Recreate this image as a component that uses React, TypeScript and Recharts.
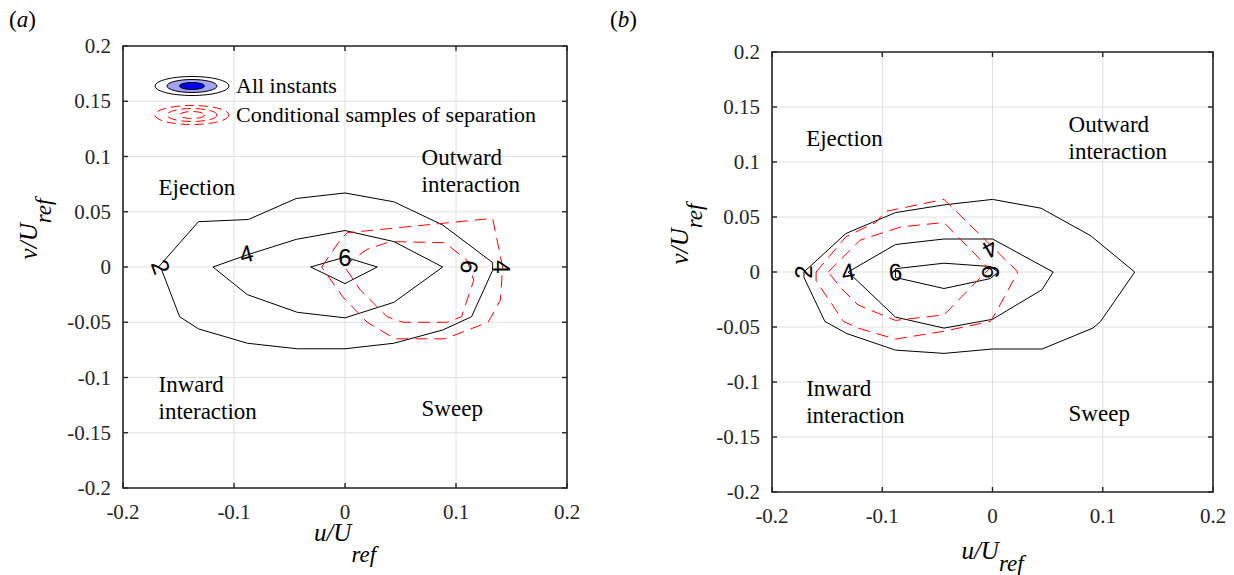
import React from "react";
import { CartesianGrid, ReferenceArea, Scatter, ScatterChart, XAxis, YAxis } from "recharts";

type Pt = { u: number; v: number };
type Note = { u: number; v: number; lines: string[] };
type Tag = { u: number; v: number; text: string; angle: number };

// axis ticks
const ticksU = [-0.2, -0.1, 0, 0.1, 0.2];
const ticksV = [-0.2, -0.15, -0.1, -0.05, 0, 0.05, 0.1, 0.15, 0.2];
const LO = -0.2;
const HI = 0.2;

// (a) joint pdf contours, all instants
const allA2: Pt[] = [
  { u: -0.168, v: 0 }, { u: -0.132, v: 0.041 }, { u: -0.087, v: 0.043 },
  { u: -0.044, v: 0.062 }, { u: 0, v: 0.067 }, { u: 0.044, v: 0.059 },
  { u: 0.088, v: 0.038 }, { u: 0.133, v: 0.004 }, { u: 0.133, v: -0.003 },
  { u: 0.114, v: -0.045 }, { u: 0.088, v: -0.057 }, { u: 0.044, v: -0.069 },
  { u: 0, v: -0.074 }, { u: -0.043, v: -0.074 }, { u: -0.088, v: -0.069 },
  { u: -0.132, v: -0.056 }, { u: -0.149, v: -0.045 }, { u: -0.165, v: -0.003 },
  { u: -0.168, v: 0 },
];
const allA4: Pt[] = [
  { u: -0.119, v: 0 }, { u: -0.088, v: 0.011 }, { u: -0.044, v: 0.025 },
  { u: 0, v: 0.033 }, { u: 0.044, v: 0.023 }, { u: 0.088, v: 0 },
  { u: 0.044, v: -0.032 }, { u: 0, v: -0.046 }, { u: -0.043, v: -0.041 },
  { u: -0.088, v: -0.025 }, { u: -0.119, v: 0 },
];
const allA6: Pt[] = [
  { u: -0.031, v: 0 }, { u: 0, v: 0.009 }, { u: 0.029, v: 0 },
  { u: 0, v: -0.015 }, { u: -0.031, v: 0 },
];
// (a) conditional samples of separation
const sepA4: Pt[] = [
  { u: -0.021, v: 0 }, { u: -0.004, v: 0.025 }, { u: 0.002, v: 0.031 },
  { u: 0.133, v: 0.044 }, { u: 0.142, v: 0 }, { u: 0.14, v: -0.03 },
  { u: 0.129, v: -0.05 }, { u: 0.09, v: -0.065 }, { u: 0.045, v: -0.065 },
  { u: 0.02, v: -0.05 }, { u: -0.002, v: -0.027 }, { u: -0.021, v: 0 },
];
const sepA6: Pt[] = [
  { u: -0.001, v: 0.001 }, { u: 0.02, v: 0.016 }, { u: 0.041, v: 0.023 },
  { u: 0.09, v: 0.022 }, { u: 0.11, v: 0.006 }, { u: 0.116, v: -0.012 },
  { u: 0.105, v: -0.045 }, { u: 0.092, v: -0.05 }, { u: 0.052, v: -0.05 },
  { u: 0.038, v: -0.045 }, { u: 0.014, v: -0.021 }, { u: -0.001, v: 0.001 },
];

// (b) joint pdf contours, all instants
const allB2: Pt[] = [
  { u: -0.171, v: 0 }, { u: -0.133, v: 0.035 }, { u: -0.088, v: 0.054 },
  { u: -0.044, v: 0.061 }, { u: 0, v: 0.066 }, { u: 0.044, v: 0.058 },
  { u: 0.089, v: 0.033 }, { u: 0.129, v: 0 }, { u: 0.098, v: -0.045 },
  { u: 0.091, v: -0.051 }, { u: 0.045, v: -0.07 }, { u: 0, v: -0.07 },
  { u: -0.044, v: -0.074 }, { u: -0.088, v: -0.071 }, { u: -0.132, v: -0.056 },
  { u: -0.152, v: -0.045 }, { u: -0.171, v: -0.005 }, { u: -0.171, v: 0 },
];
const allB4: Pt[] = [
  { u: -0.131, v: 0 }, { u: -0.088, v: 0.025 }, { u: -0.044, v: 0.03 },
  { u: 0, v: 0.03 }, { u: 0.055, v: 0 }, { u: 0.045, v: -0.016 },
  { u: 0, v: -0.043 }, { u: -0.044, v: -0.051 }, { u: -0.088, v: -0.041 },
  { u: -0.131, v: 0 },
];
const allB6: Pt[] = [
  { u: -0.088, v: 0.003 }, { u: -0.044, v: 0.008 }, { u: -0.002, v: 0.005 },
  { u: 0.005, v: 0 }, { u: -0.002, v: -0.006 }, { u: -0.044, v: -0.015 },
  { u: -0.088, v: -0.005 }, { u: -0.088, v: 0.003 },
];
// (b) conditional samples of separation
const sepB4: Pt[] = [
  { u: -0.16, v: 0 }, { u: -0.133, v: 0.032 }, { u: -0.106, v: 0.045 },
  { u: -0.097, v: 0.055 }, { u: -0.044, v: 0.066 }, { u: 0.023, v: 0 },
  { u: 0.003, v: -0.037 }, { u: -0.002, v: -0.045 }, { u: -0.045, v: -0.054 },
  { u: -0.088, v: -0.061 }, { u: -0.122, v: -0.051 }, { u: -0.135, v: -0.045 },
  { u: -0.16, v: -0.008 }, { u: -0.16, v: 0 },
];
const sepB6: Pt[] = [
  { u: -0.149, v: 0 }, { u: -0.12, v: 0.029 }, { u: -0.083, v: 0.041 },
  { u: -0.044, v: 0.045 }, { u: -0.003, v: 0.003 }, { u: -0.044, v: -0.039 },
  { u: -0.088, v: -0.044 }, { u: -0.122, v: -0.03 }, { u: -0.138, v: -0.014 },
  { u: -0.149, v: 0 },
];

// contour level labels
const tagsA: Tag[] = [
  { u: -0.166, v: 0, text: "2", angle: 70 },
  { u: -0.089, v: 0.012, text: "4", angle: -15 },
  { u: 0, v: 0.009, text: "6", angle: 0 },
  { u: 0.112, v: 0, text: "6", angle: 95 },
  { u: 0.141, v: 0, text: "4", angle: 90 },
];
const tagsB: Tag[] = [
  { u: -0.171, v: 0, text: "2", angle: -90 },
  { u: -0.131, v: 0, text: "4", angle: -10 },
  { u: -0.088, v: 0, text: "6", angle: -5 },
  { u: -0.002, v: 0.021, text: "4", angle: 150 },
  { u: -0.002, v: 0, text: "6", angle: 90 },
];

// quadrant names
const quadA: Note[] = [
  { u: -0.168, v: 0.065, lines: ["Ejection"] },
  { u: 0.069, v: 0.092, lines: ["Outward", "interaction"] },
  { u: -0.168, v: -0.113, lines: ["Inward", "interaction"] },
  { u: 0.069, v: -0.135, lines: ["Sweep"] },
];
const quadB: Note[] = [
  { u: -0.169, v: 0.115, lines: ["Ejection"] },
  { u: 0.069, v: 0.127, lines: ["Outward", "interaction"] },
  { u: -0.169, v: -0.113, lines: ["Inward", "interaction"] },
  { u: 0.069, v: -0.135, lines: ["Sweep"] },
];

// tick positions on the four sides of the box
const bottomTicks = ticksU.map((u) => ({ u, v: LO }));
const topTicks = ticksU.map((u) => ({ u, v: HI }));
const leftTicks = ticksV.map((v) => ({ u: LO, v }));
const rightTicks = ticksV.map((v) => ({ u: HI, v }));

const serif = "'Liberation Serif', 'Times New Roman', serif";
const sans = "'Liberation Sans', Arial, sans-serif";
const frame = "#262626";
const gridColor = "#e0e0e0";
const TL = 5;

const noPoint = () => <g />;

const bottomTick = (p: any) => (
  <g>
    <line x1={p.cx} y1={p.cy} x2={p.cx} y2={p.cy - TL} stroke={frame} strokeWidth={1.4} />
    <text x={p.cx} y={p.cy + 31} textAnchor="middle" fontFamily={serif} fontSize={21} fill={frame}>
      {String(p.payload.u)}
    </text>
  </g>
);
const topTick = (p: any) => (
  <line x1={p.cx} y1={p.cy} x2={p.cx} y2={p.cy + TL} stroke={frame} strokeWidth={1.4} />
);
const leftTick = (p: any) => (
  <g>
    <line x1={p.cx} y1={p.cy} x2={p.cx + TL} y2={p.cy} stroke={frame} strokeWidth={1.4} />
    <text x={p.cx - 12} y={p.cy} dy="0.34em" textAnchor="end" fontFamily={serif} fontSize={21} fill={frame}>
      {String(p.payload.v)}
    </text>
  </g>
);
const rightTick = (p: any) => (
  <line x1={p.cx} y1={p.cy} x2={p.cx - TL} y2={p.cy} stroke={frame} strokeWidth={1.4} />
);

const tagShape = (props: any) => {
  const { cx, cy, payload } = props;
  return (
    <text
      x={cx}
      y={cy}
      textAnchor="middle"
      dominantBaseline="central"
      fontFamily={sans}
      fontSize={24}
      fill="#000"
      transform={`rotate(${payload.angle}, ${cx}, ${cy})`}
    >
      {payload.text}
    </text>
  );
};

const noteShape = (props: any) => {
  const { cx, cy, payload } = props;
  return (
    <text x={cx} y={cy} fontFamily={serif} fontSize={23} fill="#000">
      {payload.lines.map((l: string, i: number) => (
        <tspan key={i} x={cx} dy={i === 0 ? 0 : 27}>
          {l}
        </tspan>
      ))}
    </text>
  );
};

type Box = { left: number; top: number; right: number; bottom: number };

type PanelProps = {
  box: Box;
  all: Pt[][];
  sep: Pt[][];
  tags: Tag[];
  notes: Note[];
  xTitleDy: number;
  xSub: number;
  yTitleX: number;
  yTitleDy: number;
};

const W = 600;
const H = 575;

const Panel: React.FC<PanelProps> = ({ box, all, sep, tags, notes, xTitleDy, xSub, yTitleX, yTitleDy }) => {
  const plotW = W - box.left - box.right;
  const plotH = H - box.top - box.bottom;
  const midX = box.left + plotW / 2;
  const midY = box.top + plotH / 2 + yTitleDy;
  return (
    <div style={{ position: "relative", width: W, height: H }}>
      <ScatterChart width={W} height={H} margin={box}>
        <CartesianGrid xAxisId="x" yAxisId="y" stroke={gridColor} />
        <XAxis xAxisId="x" dataKey="u" type="number" domain={[LO, HI]} ticks={ticksU} hide />
        <YAxis yAxisId="y" dataKey="v" type="number" domain={[LO, HI]} ticks={ticksV} hide />
        {all.map((d, i) => (
          <Scatter
            key={`all${i}`}
            xAxisId="x"
            yAxisId="y"
            data={d}
            line={{ stroke: "#000", strokeWidth: 1 }}
            shape={noPoint}
            isAnimationActive={false}
          />
        ))}
        {sep.map((d, i) => (
          <Scatter
            key={`sep${i}`}
            xAxisId="x"
            yAxisId="y"
            data={d}
            line={{ stroke: "#ff0000", strokeWidth: 1, strokeDasharray: "12 7" }}
            shape={noPoint}
            isAnimationActive={false}
          />
        ))}
        <Scatter xAxisId="x" yAxisId="y" data={tags} shape={tagShape} isAnimationActive={false} />
        <Scatter xAxisId="x" yAxisId="y" data={notes} shape={noteShape} isAnimationActive={false} />
        <ReferenceArea
          xAxisId="x"
          yAxisId="y"
          x1={LO}
          x2={HI}
          y1={LO}
          y2={HI}
          fill="none"
          fillOpacity={0}
          stroke={frame}
          strokeWidth={1.6}
          ifOverflow="visible"
        />
        <Scatter xAxisId="x" yAxisId="y" data={bottomTicks} shape={bottomTick} isAnimationActive={false} />
        <Scatter xAxisId="x" yAxisId="y" data={topTicks} shape={topTick} isAnimationActive={false} />
        <Scatter xAxisId="x" yAxisId="y" data={leftTicks} shape={leftTick} isAnimationActive={false} />
        <Scatter xAxisId="x" yAxisId="y" data={rightTicks} shape={rightTick} isAnimationActive={false} />
      </ScatterChart>
      <svg width={W} height={H} style={{ position: "absolute", left: 0, top: 0, pointerEvents: "none" }}>
        <text
          x={midX}
          y={H - box.bottom + xTitleDy}
          textAnchor="middle"
          fontFamily={serif}
          fontStyle="italic"
          fontSize={25}
          fill="#000"
        >
          u/U<tspan dy={xSub} fontSize={23}>ref</tspan>
        </text>
        <text
          x={yTitleX}
          y={midY}
          textAnchor="middle"
          fontFamily={serif}
          fontStyle="italic"
          fontSize={25}
          fill="#000"
          transform={`rotate(-90, ${yTitleX}, ${midY})`}
        >
          v/U<tspan dy={14} fontSize={23}>ref</tspan>
        </text>
      </svg>
    </div>
  );
};

const LegendKey: React.FC = () => (
  <svg width={600} height={160} style={{ position: "absolute", left: 0, top: 0, pointerEvents: "none" }}>
    <text x={9} y={27} fontFamily={serif} fontSize={23} fill="#000">
      (<tspan fontStyle="italic">a</tspan>)
    </text>
    <ellipse cx={192} cy={86} rx={37} ry={9.5} fill="#fff" stroke="#000" strokeWidth={1} />
    <ellipse cx={192} cy={86} rx={25} ry={6.5} fill="#a3a3f5" stroke="#000" strokeWidth={1} />
    <ellipse cx={192} cy={86} rx={12.5} ry={3.5} fill="#0000ff" stroke="#000" strokeWidth={1} />
    <ellipse cx={192} cy={115} rx={37} ry={9.5} fill="none" stroke="#ff0000" strokeDasharray="9 5" />
    <ellipse cx={192} cy={115} rx={25} ry={6.5} fill="none" stroke="#ff0000" strokeDasharray="9 5" />
    <ellipse cx={192} cy={115} rx={12.5} ry={3.5} fill="none" stroke="#ff0000" strokeDasharray="9 5" />
    <text x={236} y={93} fontFamily={serif} fontSize={22} fill="#000">
      All instants
    </text>
    <text x={236} y={122} fontFamily={serif} fontSize={22} fill="#000">
      Conditional samples of separation
    </text>
  </svg>
);

export default function App() {
  return (
    <div style={{ position: "absolute", left: 0, top: 0, width: 1234, height: 575, background: "#fff", overflow: "hidden" }}>
      <div style={{ position: "absolute", left: 0, top: 0 }}>
        <Panel
          box={{ left: 123, right: 33, top: 46, bottom: 87 }}
          all={[allA2, allA4, allA6]}
          sep={[sepA4, sepA6]}
          tags={tagsA}
          notes={quadA}
          xTitleDy={53}
          xSub={21}
          yTitleX={37}
          yTitleDy={-38}
        />
        <LegendKey />
      </div>
      <div style={{ position: "absolute", left: 634, top: 0 }}>
        <Panel
          box={{ left: 138, right: 21, top: 52, bottom: 83 }}
          all={[allB2, allB4, allB6]}
          sep={[sepB4, sepB6]}
          tags={tagsB}
          notes={quadB}
          xTitleDy={67}
          xSub={12}
          yTitleX={54}
          yTitleDy={-38}
        />
        <svg width={100} height={40} style={{ position: "absolute", left: -34, top: 0 }}>
          <text x={10} y={27} fontFamily={serif} fontSize={23} fill="#000">
            (<tspan fontStyle="italic">b</tspan>)
          </text>
        </svg>
      </div>
    </div>
  );
}
